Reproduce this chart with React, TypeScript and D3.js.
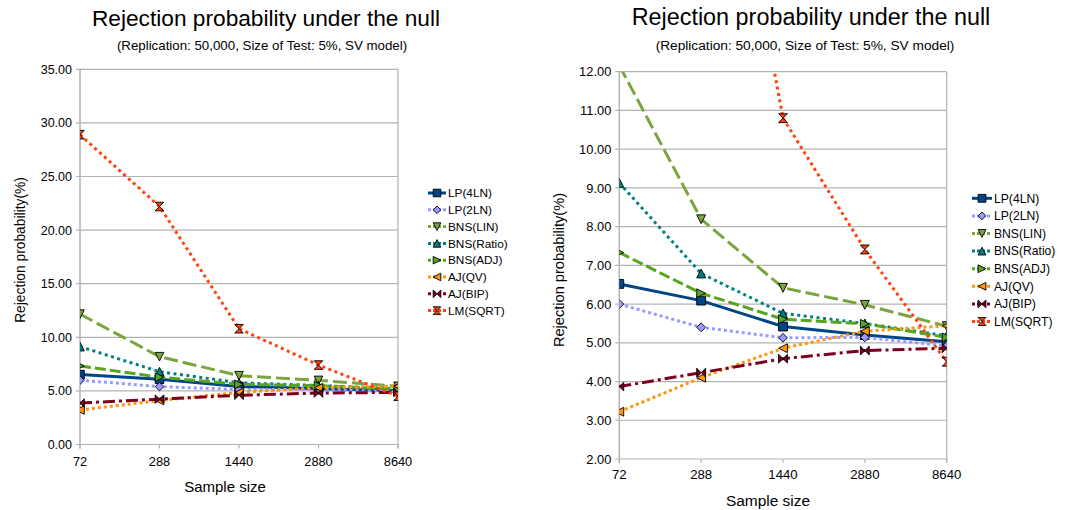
import React from "react";
import * as d3 from "d3";

const categories = ["72", "288", "1440", "2880", "8640"];
const seriesNames = ["LP(4LN)", "LP(2LN)", "BNS(LIN)", "BNS(Ratio)", "BNS(ADJ)", "AJ(QV)", "AJ(BIP)", "LM(SQRT)"];
const lp4ln = [6.52, 6.09, 5.42, 5.2, 5.03];
const lp2ln = [6.0, 5.4, 5.13, 5.14, 4.92];
const bnsLin = [12.16, 8.19, 6.42, 5.98, 5.43];
const bnsRatio = [9.13, 6.79, 5.76, 5.5, 5.18];
const bnsAdj = [7.33, 6.28, 5.61, 5.49, 5.14];
const ajQv = [3.22, 4.1, 4.86, 5.3, 5.44];
const ajBip = [3.87, 4.23, 4.59, 4.8, 4.86];
const lmSqrt = [28.9, 22.2, 10.8, 7.41, 4.51];
const leftTicks = [0, 5, 10, 15, 20, 25, 30, 35];
const rightTicks = [2, 3, 4, 5, 6, 7, 8, 9, 10, 11, 12];
const titleText = "Rejection probability under the null";
const subtitleText = "(Replication: 50,000, Size of Test: 5%, SV model)";
const xTitle = "Sample size";
const yTitle = "Rejection probability(%)";

const seriesValues = [lp4ln, lp2ln, bnsLin, bnsRatio, bnsAdj, ajQv, ajBip, lmSqrt];
const styles = [
  { color: "#004586", fill: "#004586", dash: "", shape: "square" },
  { color: "#9999ff", fill: "#9999ff", dash: "3 3", shape: "diamond" },
  { color: "#7aa53e", fill: "#7aa53e", dash: "14 5", shape: "down" },
  { color: "#008080", fill: "#008080", dash: "3 3.5", shape: "up" },
  { color: "#56a51f", fill: "#56a51f", dash: "11 4", shape: "right" },
  { color: "#ff950e", fill: "#ff950e", dash: "3 3", shape: "left" },
  { color: "#7e0021", fill: "#7e0021", dash: "12 4 3 4", shape: "bowtie" },
  { color: "#ff420e", fill: "#ff420e", dash: "3 3.5", shape: "hourglass" },
];

function markerPath(shape: string, r: number): string {
  switch (shape) {
    case "square":
      return `M${-r},${-r}L${r},${-r}L${r},${r}L${-r},${r}Z`;
    case "diamond":
      return `M0,${-r}L${r},0L0,${r}L${-r},0Z`;
    case "down":
      return `M${-r},${-r}L${r},${-r}L0,${r}Z`;
    case "up":
      return `M${-r},${r}L${r},${r}L0,${-r}Z`;
    case "right":
      return `M${-r},${-r}L${r},0L${-r},${r}Z`;
    case "left":
      return `M${r},${-r}L${-r},0L${r},${r}Z`;
    case "bowtie":
      return `M${-r},${-r}L0,0L${-r},${r}ZM${r},${-r}L0,0L${r},${r}Z`;
    case "hourglass":
      return `M${-r},${-r}L${r},${-r}L0,0ZM${-r},${r}L${r},${r}L0,0Z`;
  }
  return "";
}

const FONT = "'Liberation Sans', Arial, sans-serif";

type PanelProps = {
  id: string;
  plotL: number;
  plotR: number;
  plotT: number;
  plotB: number;
  yDomain: [number, number];
  ticks: number[];
  k: number;
  titleX: number;
  titleY: number;
  subX: number;
  subY: number;
  xLabY: number;
  xTitleX: number;
  xTitleY: number;
  yTitleX: number;
  yTitleY: number;
  yTitleSize: number;
  legX: number;
  legY: number;
  legDy: number;
  legLen: number;
};

function Panel(p: PanelProps) {
  const x = d3.scalePoint<string>().domain(categories).range([p.plotL, p.plotR]);
  const y = d3.scaleLinear().domain(p.yDomain).range([p.plotB, p.plotT]);
  const line = d3
    .line<number>()
    .x((_, i) => x(categories[i]) as number)
    .y((v) => y(v));
  const k = p.k;
  const r = 4.3 * k;
  return (
    <g>
      <defs>
        <clipPath id={p.id}>
          <rect x={p.plotL} y={p.plotT} width={p.plotR - p.plotL} height={p.plotB - p.plotT} />
        </clipPath>
      </defs>
      <text x={p.titleX} y={p.titleY} textAnchor="middle" fontSize={22.7 * k} fontFamily={FONT} fill="#000">
        {titleText}
      </text>
      <text x={p.subX} y={p.subY} textAnchor="middle" fontSize={13.3 * k} fontFamily={FONT} fill="#000">
        {subtitleText}
      </text>
      {p.ticks.map((t) => (
        <g key={t}>
          <line x1={p.plotL - 4} x2={p.plotR} y1={y(t)} y2={y(t)} stroke="#b3b3b3" strokeWidth={1.2} />
          <text
            x={p.plotL - 8}
            y={y(t)}
            dy="0.36em"
            textAnchor="end"
            fontSize={12.5 * k}
            fontFamily={FONT}
            fill="#000"
          >
            {t.toFixed(2)}
          </text>
        </g>
      ))}
      <line x1={p.plotL} x2={p.plotL} y1={p.plotT} y2={p.plotB + 4} stroke="#b3b3b3" strokeWidth={1.5} />
      <line x1={p.plotR} x2={p.plotR} y1={p.plotT} y2={p.plotB + 4} stroke="#b3b3b3" strokeWidth={1.2} />
      {categories.map((c) => (
        <g key={c}>
          <line x1={x(c)} x2={x(c)} y1={p.plotB} y2={p.plotB + 4} stroke="#b3b3b3" strokeWidth={1.2} />
          <text x={x(c)} y={p.xLabY} textAnchor="middle" fontSize={12.8 * k} fontFamily={FONT} fill="#000">
            {c}
          </text>
        </g>
      ))}
      <text x={p.xTitleX} y={p.xTitleY} textAnchor="middle" fontSize={15 * k} fontFamily={FONT} fill="#000">
        {xTitle}
      </text>
      <text
        transform={`translate(${p.yTitleX},${p.yTitleY}) rotate(-90)`}
        textAnchor="middle"
        dy="0.35em"
        fontSize={p.yTitleSize}
        fontFamily={FONT}
        fill="#000"
      >
        {yTitle}
      </text>
      <g clipPath={`url(#${p.id})`}>
        {seriesValues.map((vals, si) => (
          <g key={si}>
            <path
              d={line(vals) as string}
              fill="none"
              stroke={styles[si].color}
              strokeWidth={3}
              strokeDasharray={styles[si].dash}
            />
            {vals.map((v, i) => (
              <path
                key={i}
                transform={`translate(${x(categories[i])},${y(v)})`}
                d={markerPath(styles[si].shape, r)}
                fill={styles[si].fill}
                stroke="#000"
                strokeWidth={0.9}
              />
            ))}
          </g>
        ))}
      </g>
      {seriesNames.map((name, si) => {
        const ly = p.legY + si * p.legDy;
        return (
          <g key={name}>
            <line
              x1={p.legX}
              x2={p.legX + p.legLen}
              y1={ly}
              y2={ly}
              stroke={styles[si].color}
              strokeWidth={3}
              strokeDasharray={styles[si].dash ? "3 2" : ""}
            />
            <path
              transform={`translate(${p.legX + p.legLen / 2},${ly})`}
              d={markerPath(styles[si].shape, 3.8 * k)}
              fill={styles[si].fill}
              stroke="#000"
              strokeWidth={0.9}
            />
            <text x={p.legX + p.legLen + 2} y={ly} dy="0.36em" fontSize={11.8 * k} fontFamily={FONT} fill="#000">
              {name}
            </text>
          </g>
        );
      })}
    </g>
  );
}

export default function App() {
  return (
    <svg
      width={1070}
      height={510}
      style={{ position: "absolute", left: 0, top: 0, background: "#fff" }}
      xmlns="http://www.w3.org/2000/svg"
    >
      <rect width={1070} height={510} fill="#fff" />
      <Panel
        id="clipL"
        plotL={80}
        plotR={398}
        plotT={69.3}
        plotB={444.5}
        yDomain={[0, 35]}
        ticks={leftTicks}
        k={1}
        titleX={266}
        titleY={26}
        subX={262}
        subY={50}
        xLabY={466}
        xTitleX={225}
        xTitleY={492}
        yTitleX={20}
        yTitleY={250}
        yTitleSize={13.8}
        legX={428}
        legY={193}
        legDy={16.8}
        legLen={18}
      />
      <Panel
        id="clipR"
        plotL={619.3}
        plotR={946.7}
        plotT={71.7}
        plotB={459}
        yDomain={[2, 12]}
        ticks={rightTicks}
        k={1.03}
        titleX={811}
        titleY={25}
        subX={805}
        subY={50}
        xLabY={479}
        xTitleX={768}
        xTitleY={506}
        yTitleX={559}
        yTitleY={270}
        yTitleSize={14.6}
        legX={972}
        legY={198.3}
        legDy={17.6}
        legLen={20}
      />
    </svg>
  );
}
